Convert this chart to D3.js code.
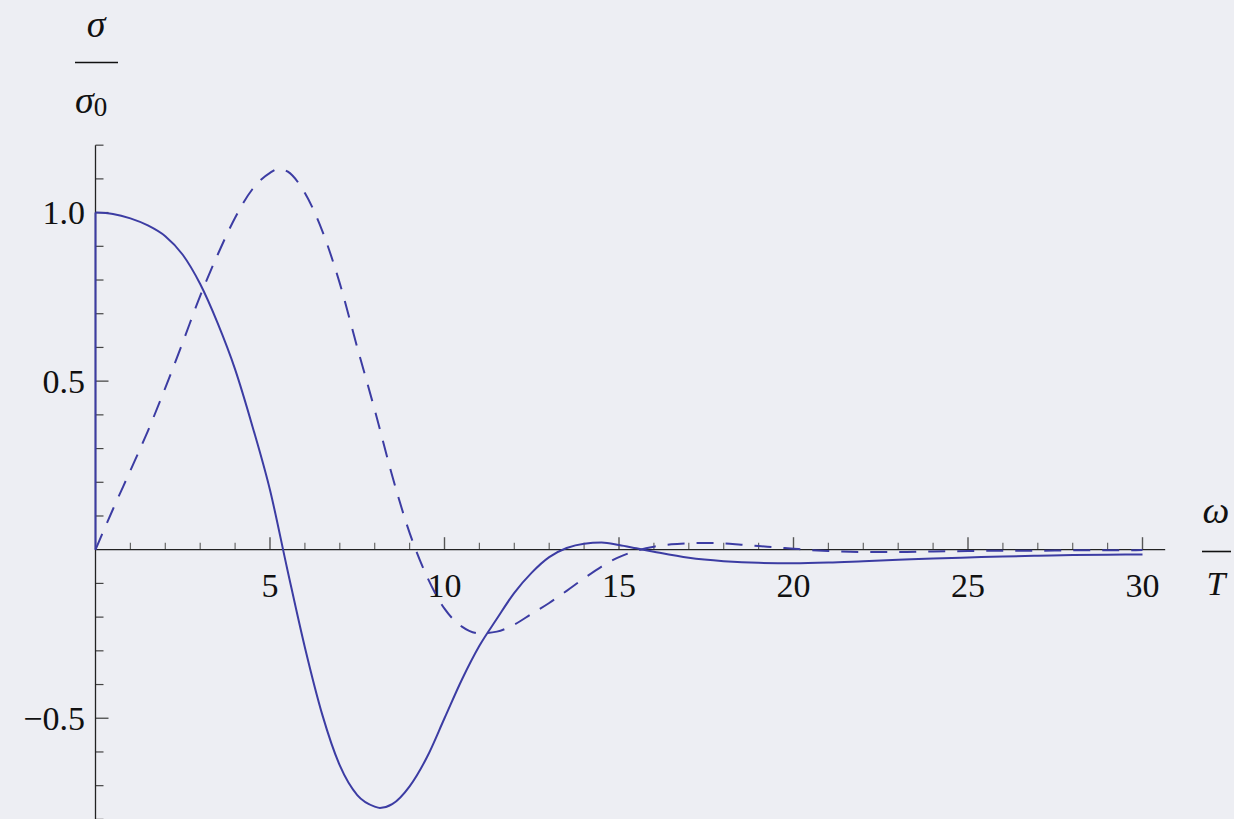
<!DOCTYPE html>
<html>
<head>
<meta charset="utf-8">
<script src="https://cdn.jsdelivr.net/npm/d3@7"></script>
<style>
  html, body { margin: 0; padding: 0; background: #edeef3; }
  svg { display: block; }
</style>
</head>
<body>
<svg id="chart" width="1234" height="819"></svg>
<script>
// ω/T values and the two response curves σ/σ0
const omegaSolid = [0, 0.5, 1.0, 1.5, 2.0, 2.5, 3.0, 3.5, 4.0, 4.5, 5.0, 5.5, 6.0, 6.5, 7.0, 7.5, 8.0, 8.15, 8.5, 9.0, 9.5, 10.0, 10.5, 11.0, 11.5, 12.0, 12.5, 13.0, 13.5, 14.0, 14.5, 15.0, 15.5, 16.0, 17.0, 18.0, 19.0, 20.0, 21.0, 22.0, 23.0, 24.0, 25.0, 26.0, 27.0, 28.0, 29.0, 30.0];
const sigmaSolid = [1.0, 0.996, 0.983, 0.962, 0.93, 0.875, 0.788, 0.672, 0.535, 0.365, 0.177, -0.06, -0.29, -0.49, -0.64, -0.728, -0.762, -0.766, -0.755, -0.702, -0.615, -0.5, -0.385, -0.285, -0.205, -0.128, -0.068, -0.022, 0.005, 0.018, 0.021, 0.014, 0.004, -0.006, -0.024, -0.034, -0.039, -0.04, -0.038, -0.034, -0.03, -0.026, -0.023, -0.02, -0.018, -0.016, -0.015, -0.014];
// the solid response jumps from 0 to 1 at ω/T = 0
const solidJump = [0, 1.0];

const omegaDashed = [0, 0.5, 1.0, 1.5, 2.0, 2.5, 3.0, 3.5, 4.0, 4.5, 5.0, 5.25, 5.5, 6.0, 6.5, 7.0, 7.5, 8.0, 8.5, 9.0, 9.5, 10.0, 10.5, 11.0, 11.5, 12.0, 12.5, 13.0, 13.5, 14.0, 14.5, 15.0, 15.5, 16.0, 16.5, 17.0, 17.5, 18.0, 18.5, 19.0, 19.5, 20.0, 20.5, 21.0, 22.0, 23.0, 24.0, 25.0, 26.0, 27.0, 28.0, 29.0, 30.0];
const sigmaDashed = [0, 0.12, 0.235, 0.352, 0.48, 0.615, 0.753, 0.875, 0.985, 1.07, 1.118, 1.13, 1.122, 1.058, 0.945, 0.79, 0.6, 0.415, 0.22, 0.05, -0.08, -0.175, -0.228, -0.248, -0.243, -0.222, -0.19, -0.158, -0.122, -0.085, -0.05, -0.022, -0.003, 0.009, 0.016, 0.019, 0.02, 0.019, 0.015, 0.011, 0.007, 0.003, -0.001, -0.004, -0.007, -0.007, -0.005, -0.004, -0.003, -0.003, -0.002, -0.002, -0.001];

const xTickLabels = [5, 10, 15, 20, 25, 30];
const yTickLabels = [-0.5, 0.5, 1.0];

const FONT = "'Liberation Serif', 'Times New Roman', Times, serif";
const svg = d3.select("#chart");
const lineColor = "#3c3ca3";

const x = d3.scaleLinear().domain([0, 30]).range([95.5, 1142.5]);
const y = d3.scaleLinear().domain([0, 1]).range([549.7, 212.6]);

// minor/major ticks
const xMinor = d3.range(1, 31).filter(v => v % 5 !== 0);
const yMinor = d3.range(-8, 13).map(v => v / 10).filter(v => Math.abs(v * 2 - Math.round(v * 2)) > 1e-9);
const yMajorTicks = [-0.5, 0.5, 1.0];

const g = svg.append("g");

// x axis ticks (drawn upward)
g.selectAll("line.xminor").data(xMinor).enter().append("line")
  .attr("x1", d => x(d)).attr("x2", d => x(d))
  .attr("y1", y(0)).attr("y2", y(0) - 7)
  .attr("stroke", "#666").attr("stroke-width", 1.2);
g.selectAll("line.xmajor").data(xTickLabels).enter().append("line")
  .attr("x1", d => x(d)).attr("x2", d => x(d))
  .attr("y1", y(0)).attr("y2", y(0) - 12.5)
  .attr("stroke", "#555").attr("stroke-width", 1.4);

// y axis ticks (drawn to the right)
g.selectAll("line.yminor").data(yMinor).enter().append("line")
  .attr("x1", x(0)).attr("x2", x(0) + 8)
  .attr("y1", d => y(d)).attr("y2", d => y(d))
  .attr("stroke", "#444").attr("stroke-width", 1.2);
g.selectAll("line.ymajor").data(yMajorTicks).enter().append("line")
  .attr("x1", x(0)).attr("x2", x(0) + 13)
  .attr("y1", d => y(d)).attr("y2", d => y(d))
  .attr("stroke", "#555").attr("stroke-width", 1.4);

// axis lines
g.append("line").attr("x1", x(0)).attr("x2", x(30.65))
  .attr("y1", y(0)).attr("y2", y(0)).attr("stroke", "#222").attr("stroke-width", 1.3);
g.append("line").attr("x1", x(0)).attr("x2", x(0))
  .attr("y1", y(1.2)).attr("y2", y(-0.82)).attr("stroke", "#222").attr("stroke-width", 1.3);

// tick labels
const fmt = d => (d < 0 ? "\u2212" : "") + Math.abs(d).toFixed(1);
g.selectAll("text.xl").data(xTickLabels).enter().append("text")
  .attr("x", d => x(d)).attr("y", 597)
  .attr("text-anchor", "middle").attr("font-size", 34)
  .attr("font-family", FONT).attr("fill", "#111")
  .text(d => d);
g.selectAll("text.yl").data(yTickLabels).enter().append("text")
  .attr("x", 85).attr("y", d => y(d) + 11.5)
  .attr("text-anchor", "end").attr("font-size", 34)
  .attr("font-family", FONT).attr("fill", "#111")
  .text(fmt);

// curves
const smooth = d3.line().x(d => x(d[0])).y(d => y(d[1])).curve(d3.curveMonotoneX);
const straight = d3.line().x(d => x(d[0])).y(d => y(d[1]));
const solid = omegaSolid.map((w, i) => [w, sigmaSolid[i]]);
const dashed = omegaDashed.map((w, i) => [w, sigmaDashed[i]]);

g.append("path").datum(dashed).attr("d", smooth)
  .attr("fill", "none").attr("stroke", lineColor).attr("stroke-width", 2)
  .attr("stroke-dasharray", "17,12");
g.append("path").datum(solidJump.map(v => [0, v])).attr("d", straight)
  .attr("fill", "none").attr("stroke", lineColor).attr("stroke-width", 2);
g.append("path").datum(solid).attr("d", smooth)
  .attr("fill", "none").attr("stroke", lineColor).attr("stroke-width", 2);

// axis titles as stacked fractions
const ylab = svg.append("g").attr("font-family", FONT).attr("fill", "#111");
ylab.append("text").attr("x", 96).attr("y", 37).attr("text-anchor", "middle")
  .attr("font-size", 38).attr("font-style", "italic").text("σ");
ylab.append("line").attr("x1", 75).attr("x2", 118).attr("y1", 62.5).attr("y2", 62.5)
  .attr("stroke", "#111").attr("stroke-width", 1.6);
const s0 = ylab.append("text").attr("x", 75).attr("y", 113).attr("font-size", 38);
s0.append("tspan").attr("font-style", "italic").text("σ");
s0.append("tspan").attr("font-size", 27).attr("dy", 3).text("0");

const xlab = svg.append("g").attr("font-family", FONT).attr("fill", "#111");
xlab.append("text").attr("x", 1216).attr("y", 523).attr("text-anchor", "middle")
  .attr("font-size", 38).attr("font-style", "italic").text("ω");
xlab.append("line").attr("x1", 1202).attr("x2", 1231).attr("y1", 551.5).attr("y2", 551.5)
  .attr("stroke", "#111").attr("stroke-width", 1.6);
xlab.append("text").attr("x", 1216).attr("y", 595).attr("text-anchor", "middle")
  .attr("font-size", 34).attr("font-style", "italic").text("T");
</script>
</body>
</html>
